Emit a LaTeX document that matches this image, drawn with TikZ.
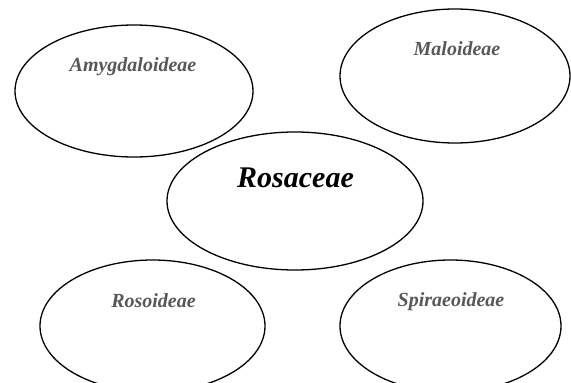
\documentclass[tikz,border=0pt]{standalone}
\usepackage{fontspec}
\setmainfont{Liberation Serif}
\usetikzlibrary{shapes.geometric}
\definecolor{lblgray}{HTML}{585858}
\tikzset{
  oval/.style={ellipse, draw=black, line width=1.3pt, inner sep=0pt, fill=none},
  lbl/.style={anchor=base, inner sep=0pt, text=lblgray, font=\fontsize{20}{24}\selectfont\bfseries\itshape},
  mainlbl/.style={anchor=base, inner sep=0pt, text=black, font=\fontsize{30}{36}\selectfont\bfseries\itshape}
}
\begin{document}
\begin{tikzpicture}[x=1pt,y=-1pt]
\useasboundingbox (0,0) rectangle (571,383);
\clip (0,0) rectangle (571,383);
\fill[white] (0,0) rectangle (571,383);
\node[oval, minimum width=238pt, minimum height=132pt] (amy) at (134,91) {};
\node[oval, minimum width=230pt, minimum height=134pt] (mal) at (455,76) {};
\node[oval, minimum width=256pt, minimum height=138pt] (ros) at (295,201) {};
\node[oval, minimum width=225pt, minimum height=132pt] (rso) at (152.5,326) {};
\node[oval, minimum width=221pt, minimum height=132pt] (spi) at (450.5,326) {};
\node[lbl] (amyt) at (133,71) {Amygdaloideae};
\node[lbl] (malt) at (457,55) {Maloideae};
\node[mainlbl] (rost) at (295.5,187) {Rosaceae};
\node[lbl] (rsot) at (153.5,307) {Rosoideae};
\node[lbl] (spit) at (451,306) {Spiraeoideae};
\end{tikzpicture}
\end{document}
